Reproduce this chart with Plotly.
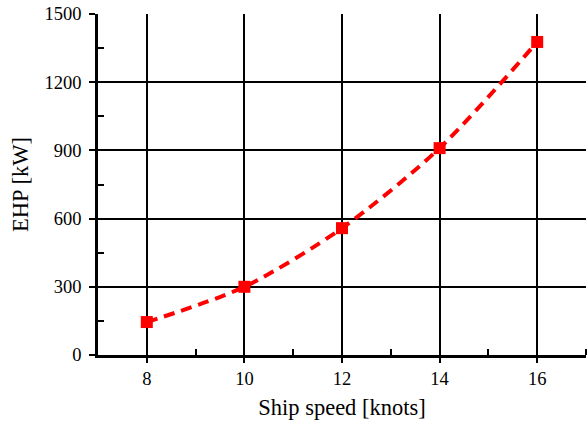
import plotly.graph_objects as go

speed = [8, 10, 12, 14, 16]
ehp = [145, 300, 558, 910, 1377]

fig = go.Figure()
fig.add_trace(go.Scatter(
    x=speed, y=ehp, mode="lines+markers",
    line=dict(color="#ff0000", width=4, dash="11px,7px", shape="spline", smoothing=0.8),
    marker=dict(symbol="square", size=12, color="#ff0000"),
    showlegend=False,
))

fam = "Liberation Serif, Times New Roman, serif"
tickfont = dict(family=fam, size=18.5, color="black")
titlefont = dict(family=fam, size=22.5, color="black")
fig.update_layout(
    width=588, height=423,
    margin=dict(l=98, r=2, t=14, b=68),
    paper_bgcolor="white", plot_bgcolor="white",
    font=tickfont,
)
fig.update_xaxes(
    range=[7, 17], tickvals=[8, 10, 12, 14, 16], ticks="outside", ticklen=5,
    tickwidth=1.5, tickcolor="black",
    minor=dict(tickvals=[9, 11, 13, 15, 17], ticks="inside", ticklen=6, tickwidth=1.5, tickcolor="black", showgrid=False),
    showgrid=True, gridcolor="black", gridwidth=1.7,
    showline=True, linecolor="black", linewidth=2.5,
    zeroline=False,
    title=dict(text="Ship speed [knots]", font=titlefont, standoff=12),
    tickfont=tickfont,
)
fig.update_yaxes(
    range=[0, 1500], tickvals=[0, 300, 600, 900, 1200, 1500], ticks="outside", ticklen=6,
    tickwidth=1.5, tickcolor="black",
    minor=dict(tickvals=[150, 450, 750, 1050, 1350], ticks="inside", ticklen=6, tickwidth=1.5, tickcolor="black", showgrid=False),
    showgrid=True, gridcolor="black", gridwidth=1.7,
    showline=True, linecolor="black", linewidth=2.5,
    zeroline=False,
    ticklabelstandoff=4,
    title=dict(text="EHP [kW]", font=titlefont, standoff=10),
    tickfont=tickfont,
)
fig.write_html("out.html", config={"displayModeBar": False},
               post_script="document.body.style.margin='0';document.body.style.overflow='hidden';")
